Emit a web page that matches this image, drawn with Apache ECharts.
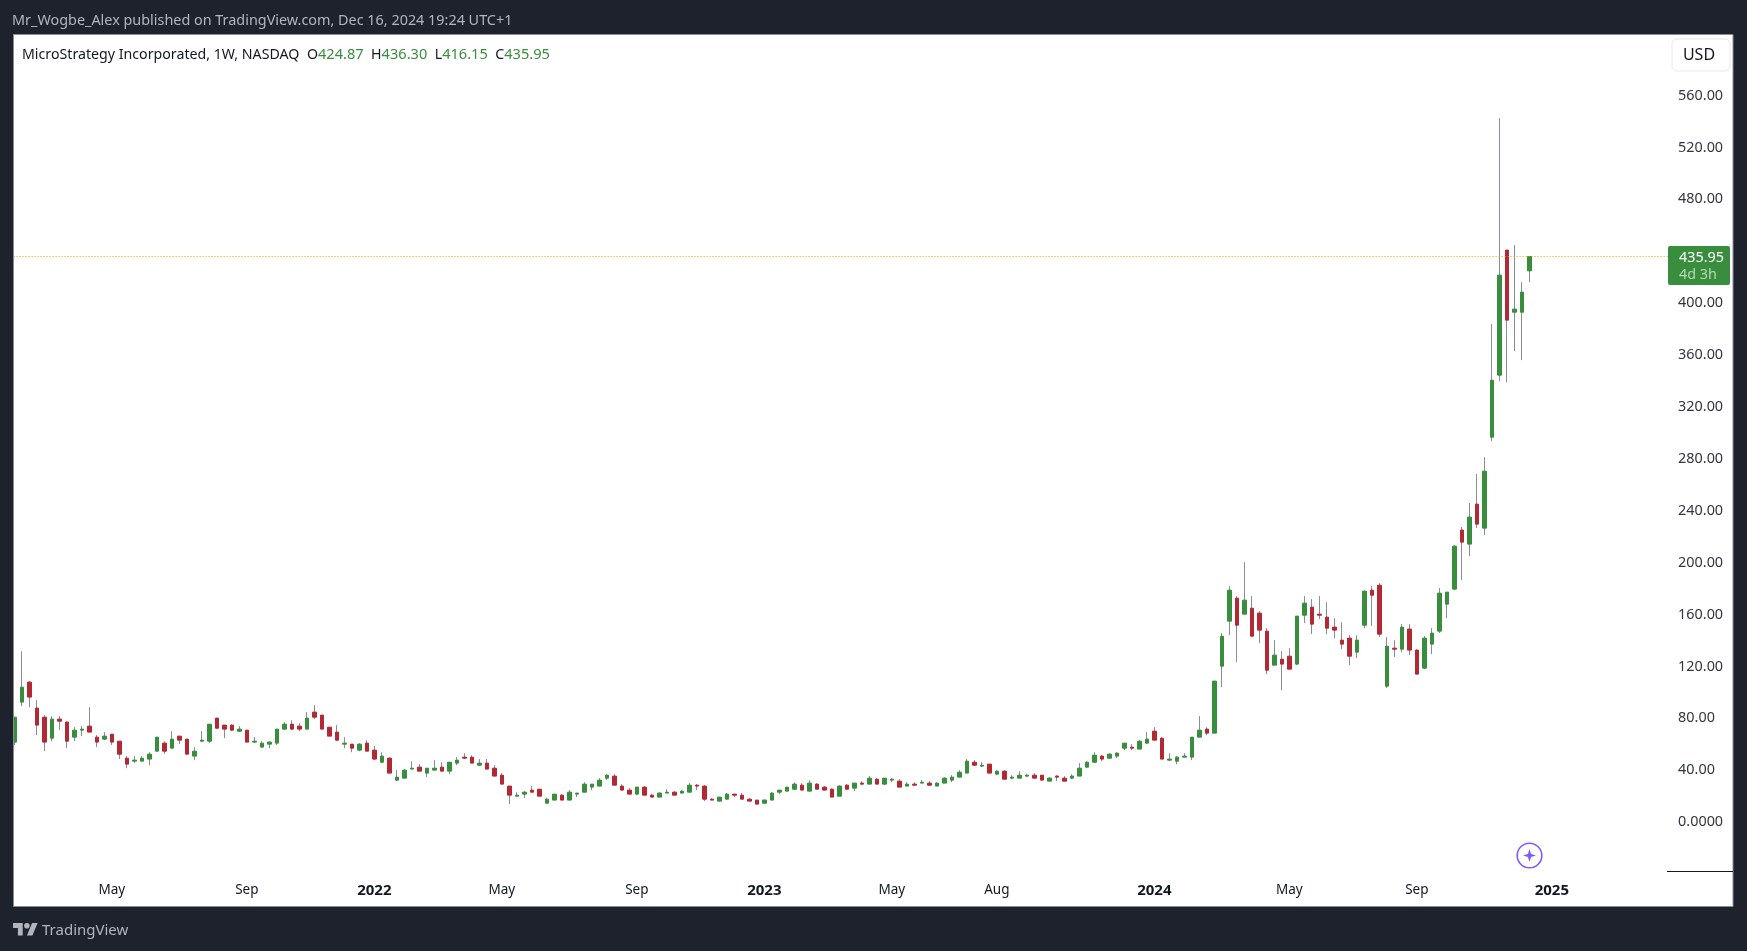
<!DOCTYPE html>
<html>
<head>
<meta charset="utf-8">
<style>html,body{margin:0;padding:0;background:#1e222d;}#c{width:1747px;height:951px;}</style>
<script src="https://cdn.jsdelivr.net/npm/echarts@6/dist/echarts.min.js"></script>
</head>
<body>
<div id="c"></div>
<script>
const opens = [
61.7,92.5,107.9,87.9,80.9,64.7,79.4,77.1,65.5,70.9,
74.0,65.5,64.0,67.8,62.4,49.3,47.0,47.0,48.6,54.7,
60.9,57.0,66.3,64.0,50.9,62.4,62.4,80.2,74.8,74.8,
70.1,70.9,61.7,57.8,60.1,60.9,71.7,75.5,74.0,71.7,
84.8,82.5,73.2,69.4,60.1,60.1,55.5,60.9,55.5,46.2,
49.3,32.4,33.9,40.9,42.4,37.8,40.1,42.4,39.3,45.5,
50.1,50.1,43.9,45.5,41.6,36.2,27.8,20.0,21.6,24.7,
25.4,14.6,17.0,20.8,17.0,21.6,23.1,27.0,27.8,33.9,
35.5,27.8,24.7,21.6,27.0,20.8,19.3,22.4,23.1,22.4,
23.1,28.5,27.8,17.7,16.2,17.7,21.6,20.8,17.7,17.0,
14.6,17.0,23.1,23.9,25.4,28.5,23.9,29.3,27.0,25.4,
20.0,28.5,26.2,30.1,29.3,33.1,29.3,32.4,31.6,27.8,
29.3,30.1,30.1,27.8,30.1,32.4,34.7,37.8,46.2,43.2,
44.7,37.0,39.3,33.9,33.9,35.5,36.2,36.2,31.6,35.5,
33.9,33.9,35.5,42.4,46.2,50.9,49.3,50.9,57.0,57.8,
56.3,60.9,70.1,64.7,47.8,47.0,50.1,50.1,65.5,71.7,
68.6,120.2,154.9,172.6,160.3,164.9,161.1,147.2,121.0,125.6,
127.9,121.8,159.5,165.7,160.3,158.0,150.3,140.3,141.8,131.0,
151.8,178.8,182.6,104.8,134.1,133.3,148.8,132.6,118.7,137.2,
147.2,168.0,179.6,225.1,214.3,245.1,226.6,296.7,344.5,440.9,
393.0,393.0,424.87];
const highs = [
80.9,131.8,108.7,94.0,82.5,81.7,81.7,77.8,73.2,74.0,
88.6,67.1,69.4,67.8,62.4,50.9,50.9,50.9,53.9,65.5,
62.4,70.1,66.3,64.0,57.8,70.1,75.5,80.2,74.8,75.5,
74.0,70.9,65.5,62.4,62.4,71.7,77.1,78.6,76.3,84.8,
90.2,82.5,73.2,74.8,65.5,60.1,60.9,63.2,58.6,53.9,
50.1,40.1,40.9,47.0,44.7,41.6,47.8,46.2,46.2,50.1,
53.2,51.6,48.6,48.6,43.9,37.8,27.8,23.1,23.9,27.8,
25.4,18.5,21.6,21.6,24.7,22.4,30.8,29.3,33.9,37.0,
37.0,29.3,26.2,27.0,27.8,21.6,23.1,25.4,23.9,24.7,
30.1,29.3,28.5,18.5,19.3,22.4,21.6,22.4,18.5,17.0,
17.7,23.1,24.7,27.0,30.8,30.1,32.4,30.1,27.8,26.2,
28.5,29.3,30.1,31.6,35.5,33.9,33.9,33.9,33.1,30.8,
30.8,32.4,31.6,30.8,34.7,36.2,40.1,48.6,47.8,46.2,
44.7,40.1,40.1,36.2,39.3,37.0,37.8,36.2,34.7,36.2,
35.5,37.0,45.5,47.0,53.9,51.6,53.2,53.9,60.9,60.1,
63.2,69.4,73.2,65.5,53.2,50.9,53.2,65.5,81.7,73.2,
108.7,145.7,181.9,174.2,200.4,174.2,162.6,149.5,140.3,131.8,
134.1,158.8,174.2,171.9,174.2,169.6,157.2,154.1,144.1,144.1,
178.8,181.9,184.2,142.6,140.3,152.6,152.6,133.3,143.4,149.5,
180.4,177.3,213.5,227.4,245.9,268.2,281.3,383.8,542.6,440.9,
444.7,416.2,436.30];
const lows = [
59.4,89.4,88.6,67.1,54.7,62.4,70.9,57.0,62.4,66.3,
69.4,57.8,63.2,59.4,48.6,41.6,45.5,47.0,43.9,54.7,
52.4,57.0,60.1,52.4,47.8,61.7,60.9,71.7,64.7,70.1,
69.4,61.7,60.9,57.8,57.0,59.4,70.9,70.9,70.1,71.7,
79.4,71.7,66.3,62.4,57.0,53.9,54.7,54.7,47.8,45.5,
37.8,31.6,33.9,40.9,39.3,34.7,40.1,39.3,37.0,43.9,
48.6,45.5,43.2,40.9,35.5,29.3,13.9,20.0,18.5,23.1,
20.0,14.6,17.0,17.0,17.0,19.3,23.1,24.7,27.8,32.4,
28.5,24.7,21.6,20.8,20.8,19.3,19.3,22.4,20.8,22.4,
23.1,24.7,16.2,17.0,16.2,17.7,19.3,17.7,16.2,13.9,
14.6,17.0,21.6,23.9,24.7,24.7,23.9,25.4,24.7,19.3,
20.0,25.4,23.9,28.5,29.3,29.3,28.5,30.8,27.0,27.8,
27.8,30.1,27.8,27.8,30.1,30.8,34.7,37.8,43.2,42.4,
37.8,36.2,33.1,33.1,33.9,34.7,33.9,32.4,31.6,31.6,
31.6,33.1,35.5,41.6,45.5,47.0,48.6,49.3,55.5,55.5,
56.3,60.1,63.2,48.6,47.0,44.7,50.1,47.8,65.5,67.0,
68.6,104.0,144.1,123.3,160.3,143.3,138.0,114.1,121.0,101.7,
117.9,121.0,153.4,144.9,156.5,144.9,141.8,133.3,121.0,126.4,
149.5,151.1,142.6,103.3,127.2,131.0,128.7,114.1,117.9,129.5,
145.7,157.2,178.8,186.5,205.0,226.6,221.2,293.6,339.9,339.1,
363.0,356.1,416.15];
const closes = [
80.9,104.0,96.4,74.8,61.7,79.4,77.8,62.4,70.9,71.7,
69.4,61.7,66.3,61.7,52.4,44.7,47.8,49.3,52.4,65.5,
54.7,64.0,63.2,52.4,54.7,63.2,75.5,72.4,71.7,70.9,
71.7,61.7,62.4,60.9,61.7,71.7,75.5,71.7,71.7,80.2,
80.9,71.7,66.3,63.2,60.9,57.0,60.1,54.7,48.6,50.9,
37.8,34.7,40.1,41.6,39.3,41.6,41.6,39.3,46.2,47.8,
49.3,45.5,45.5,40.9,35.5,29.3,20.8,20.8,23.1,23.1,
20.0,17.7,21.6,17.0,23.1,22.4,29.3,29.3,32.4,36.2,
28.5,24.7,21.6,27.0,20.8,19.3,22.4,23.1,20.8,23.9,
28.5,27.8,17.7,17.0,19.3,21.6,20.8,17.7,16.2,13.9,
17.0,22.4,24.7,27.0,29.3,24.7,30.1,25.4,24.7,19.3,
27.8,25.4,30.1,29.3,33.9,29.3,33.9,33.1,27.0,29.3,
28.5,30.8,28.5,30.1,33.9,34.7,38.5,47.0,43.9,43.9,
37.8,39.3,33.1,34.7,36.2,36.2,33.9,32.4,33.9,34.7,
31.6,35.5,41.6,46.2,51.6,48.6,52.4,53.2,60.9,57.0,
62.4,64.0,63.2,48.6,48.6,50.1,50.9,65.5,70.9,68.6,
108.7,143.3,178.8,151.8,171.1,143.3,148.0,117.1,128.7,121.8,
117.9,158.8,168.8,152.6,159.5,149.5,148.0,137.2,127.9,140.3,
178.0,174.9,144.9,135.6,133.3,150.3,132.6,114.1,141.8,145.7,
176.5,177.3,212.7,215.8,235.1,229.7,270.5,340.6,421.6,386.9,
395.4,408.5,435.95];

// Weekly bars from the week of 1 Feb 2021, plus empty weeks to the right edge.
const firstWeek = Date.UTC(2021, 1, 1);
const weekCount = 221;
const categories = [];
for (let i = 0; i < weekCount; i++) {
  categories.push(new Date(firstWeek + i * 7 * 86400000).toISOString().slice(0, 10));
}
const timeTicks = {
  '2021-05-03': 'May', '2021-09-06': 'Sep', '2022-01-03': '{y|2022}',
  '2022-05-02': 'May', '2022-09-05': 'Sep', '2023-01-02': '{y|2023}',
  '2023-05-01': 'May', '2023-08-07': 'Aug', '2024-01-01': '{y|2024}',
  '2024-05-06': 'May', '2024-09-02': 'Sep', '2025-01-06': '{y|2025}'
};
const priceTicks = [0,40,80,120,160,200,240,280,320,360,400,440,480,520,560];
const hiddenPriceTick = 440; // covered by the last-price badge in the reference
const lastClose = 435.95;

const GREEN = '#388e3c', RED = '#b22833', WICK = '#8a8c99', BG = '#1e222d', FRAME = '#8a8d96', PURPLE = '#7e5bff';
const FONT = '"Noto Sans", sans-serif';
const TXT = '14.4px ' + FONT;

const wickData = opens.map((o, i) => [o, closes[i], lows[i], highs[i]]);
const bodyData = opens.map((o, i) => {
  const c = closes[i];
  return [o, c, Math.min(o, c), Math.max(o, c)];
});

const chart = echarts.init(document.getElementById('c'), null, {renderer: 'canvas'});
chart.setOption({
  animation: false,
  backgroundColor: BG,
  textStyle: {fontFamily: FONT},
  grid: {left: 10.58, top: 43.65, width: 1657.5, height: 830.4, containLabel: false},
  tooltip: {show: false},
  xAxis: {
    type: 'category',
    data: categories,
    boundaryGap: true,
    axisLine: {show: false},
    axisTick: {show: false},
    splitLine: {show: false},
    axisLabel: {
      margin: 9.5,
      fontFamily: FONT,
      fontSize: 13.5,
      color: '#131722',
      interval: (idx, val) => val in timeTicks,
      hideOverlap: false,
      formatter: val => timeTicks[val] || '',
      rich: {y: {fontFamily: FONT, fontSize: 15, fontWeight: 'bold', color: '#131722'}}
    }
  },
  yAxis: {
    type: 'value',
    position: 'right',
    min: -40,
    max: 600,
    interval: 40,
    axisLine: {show: false},
    axisTick: {show: false},
    splitLine: {show: false},
    axisLabel: {
      margin: 10,
      fontFamily: FONT,
      fontSize: 14.4,
      color: '#33363f',
      padding: [4, 0, 0, 0],
      showMinLabel: false,
      showMaxLabel: false,
      formatter: v => (priceTicks.indexOf(v) < 0 || v === hiddenPriceTick) ? '' : (v === 0 ? '0.0000' : v.toFixed(2))
    }
  },
  series: [
    {
      name: 'Wicks',
      type: 'candlestick',
      barWidth: 1,
      silent: true,
      z: 3,
      data: wickData,
      itemStyle: {color: WICK, color0: WICK, borderColor: WICK, borderColor0: WICK, borderWidth: 1},
      markLine: {
        silent: true,
        symbol: 'none',
        label: {show: false},
        lineStyle: {color: '#f59700', type: [1, 2], width: 1, opacity: 1},
        data: [{yAxis: lastClose}]
      }
    },
    {
      name: 'MicroStrategy Incorporated',
      type: 'candlestick',
      barWidth: 4,
      silent: true,
      z: 4,
      data: bodyData,
      itemStyle: {color: GREEN, color0: RED, borderColor: GREEN, borderColor0: RED, borderWidth: 1}
    }
  ],
  graphic: {elements: [
    // white pane
    {type: 'rect', z: -10, silent: true, shape: {x: 13.5, y: 34.5, width: 1719.5, height: 872},
      style: {fill: '#ffffff', stroke: FRAME, lineWidth: 1}},
    // masks that clip the first candle at the pane edge
    {type: 'rect', z: 20, silent: true, shape: {x: 0, y: 35, width: 13, height: 870}, style: {fill: BG}},
    {type: 'line', z: 21, silent: true, shape: {x1: 13.5, y1: 34.5, x2: 13.5, y2: 906.5}, style: {stroke: FRAME, lineWidth: 1}},
    // header
    {type: 'text', z: 22, silent: true, x: 12, y: 20.5, style: {
      text: 'Mr_Wogbe_Alex published on TradingView.com, Dec 16, 2024 19:24 UTC+1',
      fill: '#b2b5be', font: TXT, textVerticalAlign: 'middle'}},
    {type: 'text', z: 22, silent: true, x: 22, y: 54.5, style: {
      text: '{n|MicroStrategy Incorporated, 1W, NASDAQ}  {n|O}{v|424.87}  {n|H}{v|436.30}  {n|L}{v|416.15}  {n|C}{v|435.95}',
      textVerticalAlign: 'middle',
      font: TXT,
      rich: {
        n: {fill: '#131722', font: '14.2px ' + FONT},
        v: {fill: GREEN, font: '14.6px ' + FONT}
      }}},
    // currency button
    {type: 'rect', z: 22, silent: true, shape: {x: 1672, y: 39, width: 58, height: 32, r: 5},
      style: {fill: '#ffffff', stroke: '#e6e8f0', lineWidth: 1}},
    {type: 'text', z: 23, silent: true, x: 1699, y: 55, style: {
      text: 'USD', fill: '#131722', font: '16px ' + FONT, textAlign: 'center', textVerticalAlign: 'middle'}},
    // last price badge
    {type: 'rect', z: 22, silent: true, shape: {x: 1668, y: 246, width: 62, height: 39, r: 2}, style: {fill: GREEN}},
    {type: 'text', z: 23, silent: true, x: 1679, y: 257.5, style: {
      text: '435.95', fill: '#ffffff', font: TXT, textVerticalAlign: 'middle'}},
    {type: 'text', z: 23, silent: true, x: 1679, y: 275, style: {
      text: '4d 3h', fill: '#b5d8b7', font: TXT, textVerticalAlign: 'middle'}},
    // price scale foot line
    {type: 'line', z: 22, silent: true, shape: {x1: 1667, y1: 871.5, x2: 1733, y2: 871.5}, style: {stroke: '#131722', lineWidth: 1}},
    // assistant icon
    {type: 'circle', z: 22, silent: true, shape: {cx: 1529.5, cy: 855.5, r: 12.3},
      style: {fill: 'none', stroke: PURPLE, lineWidth: 1.6}},
    {type: 'polygon', z: 22, silent: true, shape: {points: [
      [1529.5,849],[1531.1,853.9],[1536,855.5],[1531.1,857.1],[1529.5,862],[1527.9,857.1],[1523,855.5],[1527.9,853.9]]},
      style: {fill: PURPLE}},
    // footer logo
    {type: 'polygon', z: 22, silent: true, shape: {points: [[13,923],[22.7,923],[22.7,935.5],[17.9,935.5],[17.9,928],[13,928]]}, style: {fill: '#b2b5be'}},
    {type: 'polygon', z: 22, silent: true, shape: {points: [[26.9,935.5],[32.1,923],[37.6,923],[32.4,935.5]]}, style: {fill: '#b2b5be'}},
    {type: 'circle', z: 22, silent: true, shape: {cx: 26.9, cy: 925.8, r: 2.8}, style: {fill: '#b2b5be'}},
    {type: 'text', z: 22, silent: true, x: 42, y: 931, style: {
      text: 'TradingView', fill: '#b2b5be', font: '15px ' + FONT, textVerticalAlign: 'middle'}}
  ]}
});
</script>
</body>
</html>
